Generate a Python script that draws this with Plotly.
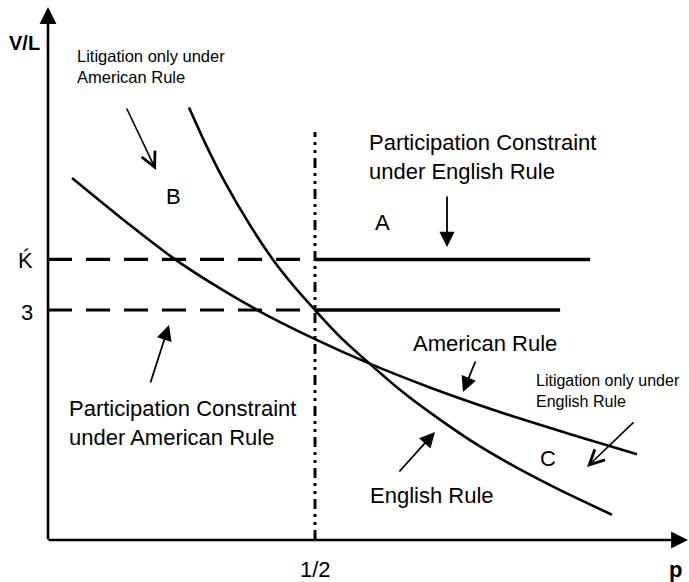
import plotly.graph_objects as go

# ---- data (p, V/L) ----
english_p = [0.264, 0.294, 0.331, 0.378, 0.423, 0.463, 0.50, 0.547, 0.599, 0.659, 0.734, 0.809, 0.884, 0.959, 1.056]
english_v = [5.64, 5.18, 4.67, 4.11, 3.64, 3.29, 3.00, 2.65, 2.32, 1.96, 1.57, 1.22, 0.92, 0.65, 0.33]
american_p = [0.045, 0.135, 0.238, 0.313, 0.397, 0.50, 0.599, 0.715, 0.846, 0.978, 1.103]
american_v = [4.72, 4.21, 3.66, 3.32, 2.98, 2.62, 2.31, 1.99, 1.67, 1.38, 1.12]
k_prime = 3.66
three = 3.0
half = 0.5
k_solid_end = 1.015
three_solid_end = 0.959
vline_top = 5.32
y_tick_labels = ["Ḱ", "3"]
x_tick_label = "1/2"

# pixel -> data helpers for placing annotations
def X(px):
    return (px - 48) / 534.0

def Y(py):
    return (540 - py) / 76.67

FONT = "Liberation Sans, Arial, sans-serif"
fig = go.Figure()

# dashed participation lines (left part)
for val in (k_prime, three):
    fig.add_trace(go.Scatter(x=[0, half], y=[val, val], mode="lines",
                             line=dict(color="black", width=3.2, dash="24px,14px"),
                             hoverinfo="skip", showlegend=False))
# solid parts
fig.add_trace(go.Scatter(x=[half, k_solid_end], y=[k_prime, k_prime], mode="lines",
                         line=dict(color="black", width=3.5), hoverinfo="skip", showlegend=False))
fig.add_trace(go.Scatter(x=[half, three_solid_end], y=[three, three], mode="lines",
                         line=dict(color="black", width=3.5), hoverinfo="skip", showlegend=False))
# vertical dash-dot at p = 1/2
fig.add_trace(go.Scatter(x=[half, half], y=[0, vline_top], mode="lines",
                         line=dict(color="black", width=3, dash="10px,5px,3px,5px,3px,5px"),
                         hoverinfo="skip", showlegend=False))
# curves
fig.add_trace(go.Scatter(x=english_p, y=english_v, mode="lines", name="English Rule",
                         line=dict(color="black", width=2.6, shape="spline", smoothing=0.8),
                         showlegend=False))
fig.add_trace(go.Scatter(x=american_p, y=american_v, mode="lines", name="American Rule",
                         line=dict(color="black", width=2.6, shape="spline", smoothing=0.8),
                         showlegend=False))

ann = []
def arrow(tail, head, head_style=2, width=1.8, size=1.3):
    ann.append(dict(x=X(head[0]), y=Y(head[1]), ax=X(tail[0]), ay=Y(tail[1]),
                    xref="x", yref="y", axref="x", ayref="y", text="", showarrow=True,
                    arrowhead=head_style, arrowwidth=width, arrowsize=size,
                    arrowcolor="black", standoff=0, startstandoff=0))

def label(px, py, text, size=22, bold=False, xanchor="center", align="center"):
    if bold:
        text = "<b>" + text + "</b>"
    ann.append(dict(x=X(px), y=Y(py), xref="x", yref="y", text=text, showarrow=False,
                    xanchor=xanchor, yanchor="middle", align=align, borderpad=0,
                    font=dict(family=FONT, size=size, color="black")))

# axes
arrow((48, 541), (48, 7), head_style=2, width=2.6, size=1.3)
arrow((47, 540), (688, 540), head_style=2, width=2.6, size=1.3)

# pointer arrows
arrow((126, 107), (156, 170), head_style=5, width=1.6, size=1.8)
arrow((447, 195), (447, 247), head_style=2, width=1.8, size=1.7)
arrow((150, 384), (169, 325), head_style=2, width=1.8, size=1.7)
arrow((476, 360), (463, 392), head_style=2, width=1.8, size=1.7)
arrow((398, 473), (435, 432), head_style=2, width=1.8, size=1.7)
arrow((635, 421), (587, 467), head_style=5, width=1.6, size=1.8)

# labels
label(24, 43, "V/L", size=20, bold=True)
label(76, 66, "Litigation only under<br>American Rule", size=16.5, xanchor="left", align="left")
label(173, 196, "B")
label(368, 157, "Participation Constraint<br>under English Rule", xanchor="left", align="left")
label(382, 222, "A")
label(25, 260, y_tick_labels[0])
label(27, 312, y_tick_labels[1])
label(68, 423, "Participation Constraint<br>under American Rule", xanchor="left", align="left")
label(485, 343, "American Rule")
label(535, 391, "Litigation only under<br>English Rule", size=16, xanchor="left", align="left")
label(548, 458, "C")
label(432, 495, "English Rule")
label(315, 569, x_tick_label)
label(675, 569, "p", bold=True)

fig.update_layout(
    width=689, height=582,
    margin=dict(l=0, r=0, t=0, b=0),
    paper_bgcolor="white", plot_bgcolor="white",
    xaxis=dict(range=[X(0), X(689)], visible=False, fixedrange=True),
    yaxis=dict(range=[Y(582), Y(0)], visible=False, fixedrange=True),
    annotations=ann,
    showlegend=False,
)

fig.write_html("out.html", config={"displayModeBar": False},
               post_script="document.body.style.margin='0';document.body.style.overflow='hidden';")
